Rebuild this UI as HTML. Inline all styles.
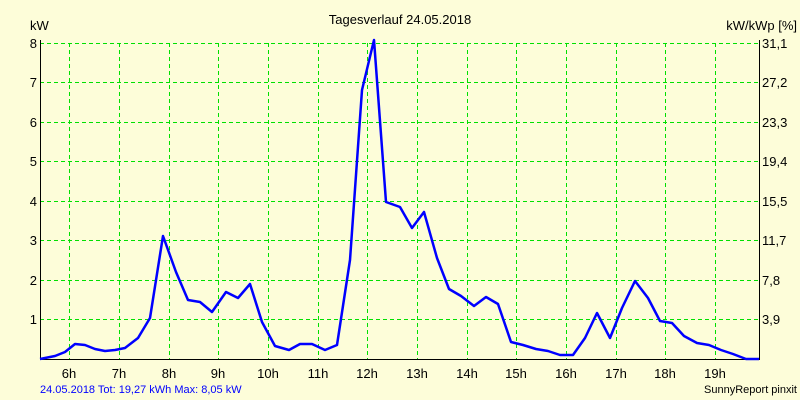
<!DOCTYPE html><html><head><style>body{margin:0;background:#fdfdd9}svg{display:block}text{font-family:"Liberation Sans",sans-serif;font-size:13px;fill:#000}</style></head><body>
<svg width="800" height="400" viewBox="0 0 800 400">
<rect width="800" height="400" fill="#fdfdd9"/>
<g stroke="#00e000" stroke-width="1" stroke-dasharray="4,3" fill="none">
<path d="M40 43.5H759M40 82.5H759M40 122.5H759M40 161.5H759M40 201.5H759M40 240.5H759M40 280.5H759M40 319.5H759"/>
<path d="M69.5 43V359M119.5 43V359M169.5 43V359M218.5 43V359M268.5 43V359M318.5 43V359M367.5 43V359M417.5 43V359M467.5 43V359M516.5 43V359M566.5 43V359M616.5 43V359M665.5 43V359M715.5 43V359"/>
</g>
<path d="M40.5 40V359.5H759.5V40" stroke="#000" fill="none"/>
<polyline fill="none" stroke="#0000ff" stroke-width="2.5" stroke-linejoin="round" points="40,359 55,356 65,352 75,344 85,345 95,349 105,351 115,350 125,348 138,338 150,318 163,236 176,272 188,300 200,302 212,312 226,292 238,298 250,284 262,322 275,346 289,350 300,344 312,344 325,350 337,345 350,260 362,90 374,40 386,202 400,207 412,228 424,212 437,258 449,289 461,296 474,306 486,297 498,304 511,342 523,345 536,349 548,351 560,355 573,355 585,338 597,313 610,338 622,308 635,281 648,298 660,321 672,323 684,336 697,343 709,345 721,350 733,354 746,359 759,359"/>
<text x="400" y="24" text-anchor="middle">Tagesverlauf 24.05.2018</text>
<text x="30" y="30">kW</text>
<text x="797" y="30" text-anchor="end">kW/kWp [%]</text>
<g text-anchor="end"><text x="37" y="48">8</text><text x="37" y="87">7</text><text x="37" y="127">6</text><text x="37" y="166">5</text><text x="37" y="206">4</text><text x="37" y="245">3</text><text x="37" y="285">2</text><text x="37" y="324">1</text></g>
<g><text x="762" y="48">31,1</text><text x="762" y="87">27,2</text><text x="762" y="127">23,3</text><text x="762" y="166">19,4</text><text x="762" y="206">15,5</text><text x="762" y="245">11,7</text><text x="762" y="285">7,8</text><text x="762" y="324">3,9</text></g>
<g text-anchor="middle"><text x="69" y="378">6h</text><text x="119" y="378">7h</text><text x="169" y="378">8h</text><text x="218" y="378">9h</text><text x="268" y="378">10h</text><text x="318" y="378">11h</text><text x="367" y="378">12h</text><text x="417" y="378">13h</text><text x="467" y="378">14h</text><text x="516" y="378">15h</text><text x="566" y="378">16h</text><text x="616" y="378">17h</text><text x="665" y="378">18h</text><text x="715" y="378">19h</text></g>
<text x="40" y="393" style="font-size:11px;fill:#0000ff">24.05.2018 Tot: 19,27 kWh Max: 8,05 kW</text>
<text x="797" y="393" text-anchor="end" style="font-size:11px">SunnyReport pinxit</text>
</svg></body></html>
